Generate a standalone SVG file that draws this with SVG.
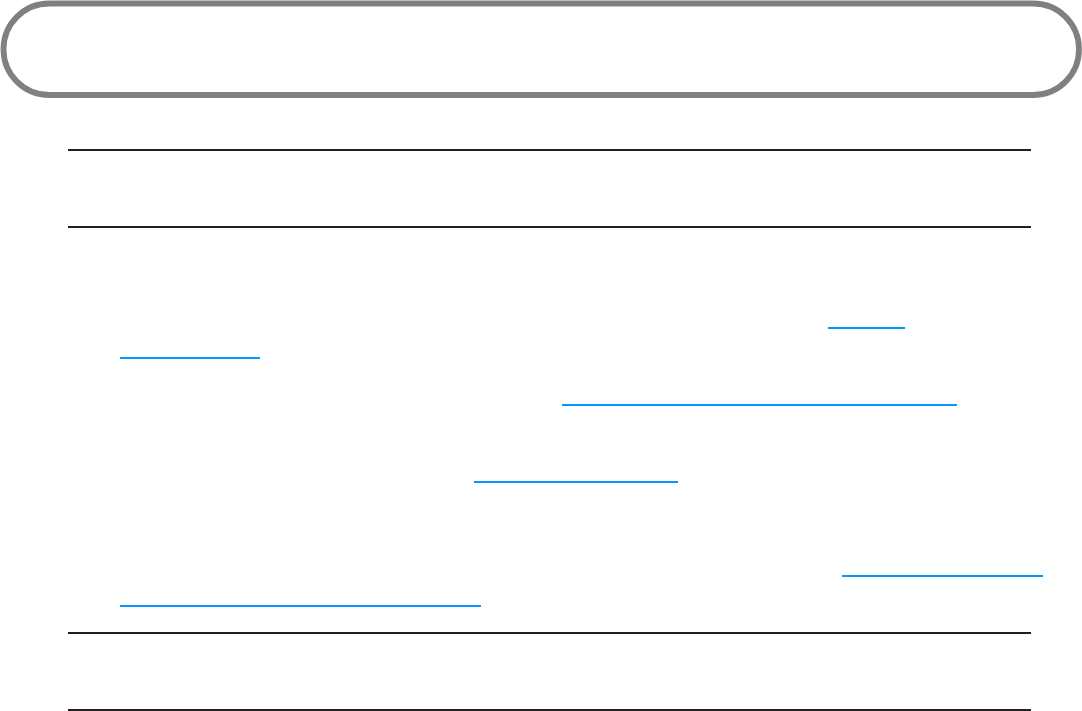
<svg xmlns="http://www.w3.org/2000/svg" width="1082" height="711" viewBox="0 0 1082 711">
  <style>
    .pill { fill: #ffffff; stroke: #808080; stroke-width: 5.8; }
    .rule { stroke: #231f20; stroke-width: 2; }
    .link { stroke: #0099ff; stroke-width: 1.8; }
  </style>
  <rect x="0" y="0" width="1082" height="711" fill="#ffffff"/>
  <g id="title-banner">
    <rect class="pill" x="3.5" y="3.5" width="1075.5" height="91.5" rx="45.75" ry="45.75"/>
  </g>
  <g id="rules">
    <line class="rule" x1="68" y1="150" x2="1031" y2="150"/>
    <line class="rule" x1="68" y1="227" x2="1031" y2="227"/>
    <line class="rule" x1="68" y1="633" x2="1031" y2="633"/>
    <line class="rule" x1="68" y1="710" x2="1031" y2="710"/>
  </g>
  <g id="link-underlines">
    <line class="link" x1="828" y1="328" x2="905" y2="328"/>
    <line class="link" x1="120" y1="358" x2="260" y2="358"/>
    <line class="link" x1="562" y1="405" x2="957" y2="405"/>
    <line class="link" x1="474" y1="482" x2="678" y2="482"/>
    <line class="link" x1="842" y1="576" x2="1043" y2="576"/>
    <line class="link" x1="120" y1="606" x2="481" y2="606"/>
  </g>
</svg>
